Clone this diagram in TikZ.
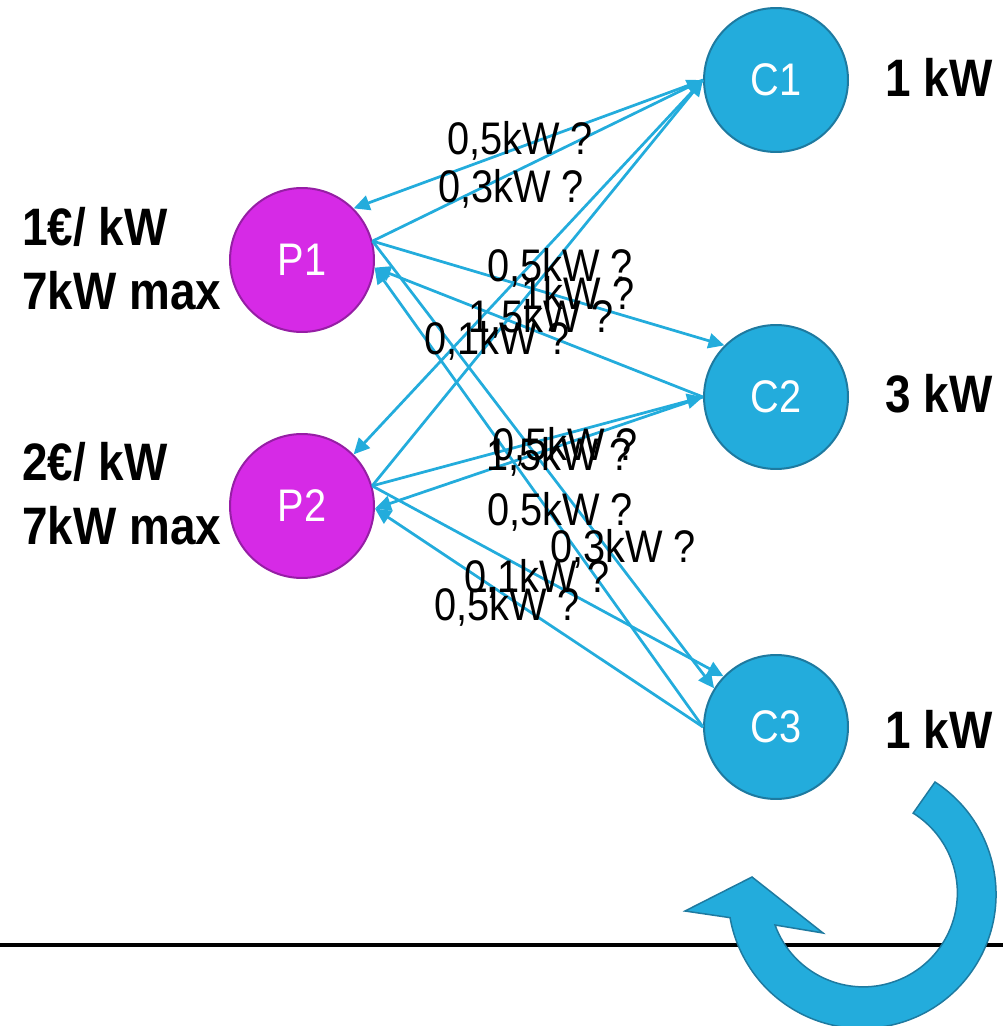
\documentclass[tikz,border=0pt]{standalone}
\usepackage{fontspec}
\setmainfont[FakeStretch=0.87]{Liberation Sans}
\usetikzlibrary{arrows.meta}

\definecolor{consblue}{RGB}{35,172,220}
\definecolor{consedge}{RGB}{30,122,160}
\definecolor{prodmag}{RGB}{214,42,230}
\definecolor{prodedge}{RGB}{150,30,165}

\tikzset{
  prod/.style={circle, draw=prodedge, fill=prodmag, line width=0.04cm, minimum size=2.88cm,
    inner sep=0pt, text=white, font=\fontsize{26}{30}\selectfont},
  cons/.style={circle, draw=consedge, fill=consblue, line width=0.04cm, minimum size=2.88cm,
    inner sep=0pt, text=white, font=\fontsize{26}{30}\selectfont},
  flow/.style={draw=consblue, line width=0.055cm, -{Triangle[length=0.32cm,width=0.3cm]}},
  kwlbl/.style={anchor=base, inner sep=0pt, font=\fontsize{26}{30}\selectfont},
  infotxt/.style={inner sep=0pt, align=left, font=\bfseries\fontsize{30}{36.3}\selectfont},
}

\begin{document}
\begin{tikzpicture}[x=0.02cm, y=-0.02cm]
\useasboundingbox (0,0) rectangle (1003,1026);

\node[prod] (P1) at (302,260) {P1};
\node[prod] (P2) at (302,506) {P2};
\node[cons] (C1) at (776,80) {C1};
\node[cons] (C2) at (776,397) {C2};
\node[cons] (C3) at (776,727) {C3};

\node[infotxt, anchor=west] (cost1) at (22,259) {1€/ kW\\7kW max};
\node[infotxt, anchor=west] (cost2) at (22,494) {2€/ kW\\7kW max};
\node[infotxt, anchor=base west] (need1) at (885,97) {1 kW};
\node[infotxt, anchor=base west] (need2) at (885,413) {3 kW};
\node[infotxt, anchor=base west] (need3) at (885,748) {1 kW};

\draw[flow] (C1.180) -- (P1.45);
\draw[flow] (P1.15) -- (C1.180);
\draw[flow] (C1.180) -- (P2.45);
\draw[flow] (P2.16) -- (C1.180);
\draw[flow] (P1.15) -- (C2.135);
\draw[flow] (C2.180) -- (P1.-6);
\draw[flow] (P2.16) -- (C2.180);
\draw[flow] (C2.180) -- (P2.-2);
\draw[flow] (P1.15) -- (C3.148);
\draw[flow] (C3.180) -- (P1.-6);
\draw[flow] (P2.16) -- (C3.136);
\draw[flow] (C3.180) -- (P2.-2);

\node[kwlbl] (f1) at (520,155) {0,5kW ?};
\node[kwlbl] (f2) at (511,203) {0,3kW ?};
\node[kwlbl] (f3) at (560,282) {0,5kW ?};
\node[kwlbl] (f4) at (578,310) {1kW ?};
\node[kwlbl] (f5) at (541,333) {1,5kW ?};
\node[kwlbl] (f6) at (497,355) {0,1kW ?};
\node[kwlbl] (f7) at (565,460) {0,5kW ?};
\node[kwlbl] (f8) at (559,470) {1,5kW ?};
\node[kwlbl] (f9) at (560,525) {0,5kW ?};
\node[kwlbl] (f10) at (623,562) {0,3kW ?};
\node[kwlbl] (f11) at (537,592) {0,1kW ?};
\node[kwlbl] (f12) at (507,620) {0,5kW ?};

\draw[line width=0.065cm] (0,945) -- (1003,945);
\filldraw[fill=consblue, draw=consedge, line width=0.03cm]
  (935,782) arc[start angle=-57, end angle=170, radius=134]
  -- (685,911) -- (752,877) -- (823,933) -- (775,925)
  arc[start angle=160, end angle=-58, radius=94] -- cycle;
\end{tikzpicture}
\end{document}
